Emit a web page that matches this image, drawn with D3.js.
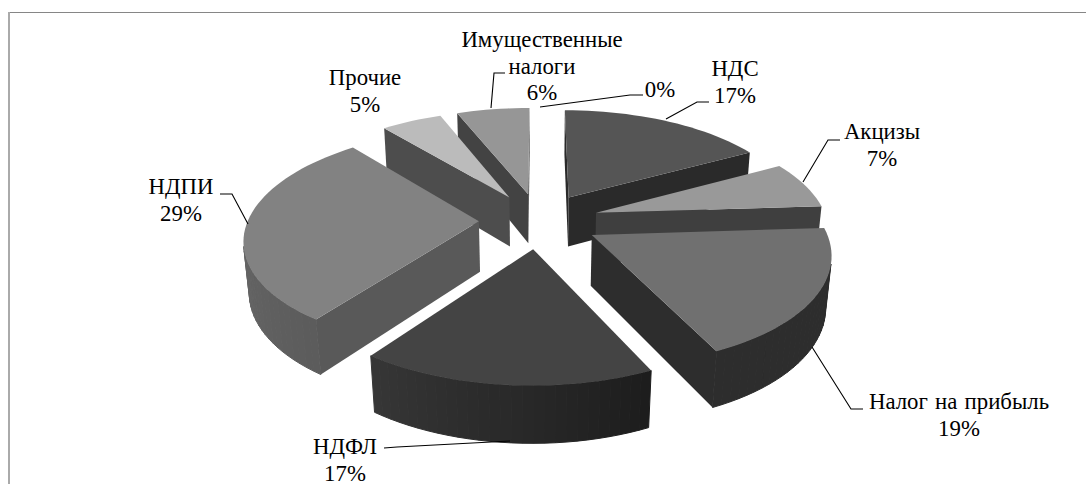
<!DOCTYPE html>
<html lang="ru">
<head>
<meta charset="utf-8">
<style>
  html, body { margin: 0; background: #fff; }
  svg { display: block; }
  text { font-family: "Liberation Serif", "Times New Roman", serif; font-size: 22.8px; word-spacing: 1.5px; fill: #000; text-anchor: middle; }
</style>
<script src="https://cdn.jsdelivr.net/npm/d3@7"></script>
</head>
<body>
<svg id="chart" width="1086" height="484"></svg>
<script>
// Tax revenue structure, percent of the total
const categories = ["НДС", "Акцизы", "Налог на прибыль", "НДФЛ", "НДПИ", "Прочие", "Имущественные налоги", ""];
const shares = [17, 7, 19, 17, 29, 5, 6, 0];

// Shades per slice: top face, straight walls, rim at both ends of the slice
const topShades = ["#555555", "#999999", "#707070", "#444444", "#828282", "#bbbbbb", "#969696", "#888888"];
const wallShades = ["#2a2a2a", "#3f3f3f", "#2d2d2d", "#333333", "#595959", "#4d4d4d", "#434343", "#444444"];
const rimFrom = ["#2a2a2a", "#3f3f3f", "#2d2d2d", "#1d1d1d", "#5c5c5c", "#4d4d4d", "#434343", "#444444"];
const rimTo = ["#2a2a2a", "#3f3f3f", "#2d2d2d", "#363636", "#727272", "#4d4d4d", "#434343", "#444444"];

// Label text lines and their anchors, with the leader polyline of each label
const labelLines = [
  ["НДС", "17%"], ["Акцизы", "7%"], ["Налог на прибыль", "19%"], ["НДФЛ", "17%"],
  ["НДПИ", "29%"], ["Прочие", "5%"], ["Имущественные", "налоги", "6%"], ["0%"]
];
const labelCentre = [735, 882, 959, 345, 181, 365, 542, 660];
const labelBaseline = [76, 139, 409, 454, 194, 85, 47, 97];
const leaders = [
  [[666, 119], [697, 102], [709, 102]],
  [[803, 182], [828, 140], [840, 140]],
  [[812, 347], [851, 409], [863, 409]],
  [[510, 441], [397, 447], [384, 448]],
  [[248, 224], [232, 194], [220, 194]],
  [],
  [[491, 108], [494, 73], [505, 73]],
  [[540, 107], [630, 95], [643, 95]]
];

const lineStep = 26.7;
const explode = 0.26, thickness = 0.25;

// Perspective camera looking down on a unit-radius pie
const camera = { cx: 539, cy: 220.5, focal: 231, tiltSin: 0.461, tiltCos: 0.887, dist: 5.94 };
function project(x, y, z) {
  const { cx, cy, focal, tiltSin, tiltCos, dist } = camera;
  const w = 1 + (y * tiltCos - z * tiltSin) / dist;
  return [cx + focal * x / w, cy - focal * (y * tiltSin + z * tiltCos) / w];
}

const svg = d3.select("#chart");
const line = d3.line();

// Chart frame: top edge and left edge
svg.append("path").attr("d", line([[8, 12.5], [1086, 12.5]]))
  .attr("fill", "none").attr("stroke", "#868686").attr("stroke-width", 1);
svg.append("path").attr("d", line([[9, 12], [9, 484]]))
  .attr("fill", "none").attr("stroke", "#aaaaaa").attr("stroke-width", 2);

const pie = d3.pie().sort(null).value(d => d)(shares);

const slices = pie.map((p, i) => {
  const mid = (p.startAngle + p.endAngle) / 2;
  const ox = explode * Math.sin(mid), oy = explode * Math.cos(mid);
  const steps = Math.max(1, Math.ceil((p.endAngle - p.startAngle) / 0.04));
  const angles = d3.range(steps + 1).map(k => p.startAngle + (p.endAngle - p.startAngle) * k / steps);
  const rim = angles.map(a => [ox + Math.sin(a), oy + Math.cos(a)]);
  return { i, value: p.value, ox, oy, rim, angles };
}).filter(s => s.value > 0);

function wallQuad(a, b) {
  return [project(a[0], a[1], 0), project(b[0], b[1], 0), project(b[0], b[1], -thickness), project(a[0], a[1], -thickness)];
}

// Painter's order: the slices furthest from the viewer go first
const layer = svg.append("g");
slices.slice().sort((a, b) => b.oy - a.oy).forEach(s => {
  const g = layer.append("g");
  const apex = [s.ox, s.oy];
  const rimShade = d3.scaleLinear().domain([0, s.rim.length - 2 || 1])
    .range([rimFrom[s.i], rimTo[s.i]]);
  const first = s.rim[0], last = s.rim[s.rim.length - 1];
  const rimFaces = d3.range(s.rim.length - 1)
    .map(k => ({ q: wallQuad(s.rim[k], s.rim[k + 1]), fill: rimShade(k) }))
    .filter(f => d3.polygonArea(f.q) > 0);
  const flatFaces = [
    { q: wallQuad(apex, first), fill: wallShades[s.i] },
    { q: wallQuad(last, apex), fill: wallShades[s.i] }
  ].filter(f => d3.polygonArea(f.q) > 0);
  // Rim strips carry a matching stroke so that no seams show between them
  rimFaces.forEach(f => {
    g.append("path").attr("d", line(f.q) + "Z")
      .attr("fill", f.fill).attr("stroke", f.fill).attr("stroke-width", 1).attr("stroke-linejoin", "round");
  });
  flatFaces.forEach(f => {
    g.append("path").attr("d", line(f.q) + "Z").attr("fill", f.fill);
  });
  const outline = [apex, ...s.rim].map(p => project(p[0], p[1], 0));
  g.append("path").attr("d", line(outline) + "Z").attr("fill", topShades[s.i]);
});

// Leaders
svg.append("g").selectAll("path").data(leaders.filter(l => l.length)).join("path")
  .attr("d", d => line(d)).attr("fill", "none").attr("stroke", "#000").attr("stroke-width", 1.1);

// Labels
const labels = svg.append("g").selectAll("text").data(labelLines).join("text")
  .attr("transform", (d, i) => `translate(${labelCentre[i]},${labelBaseline[i]})`);
labels.selectAll("tspan").data(d => d).join("tspan")
  .attr("x", 0).attr("y", (d, k) => k * lineStep).text(d => d);
</script>
</body>
</html>
